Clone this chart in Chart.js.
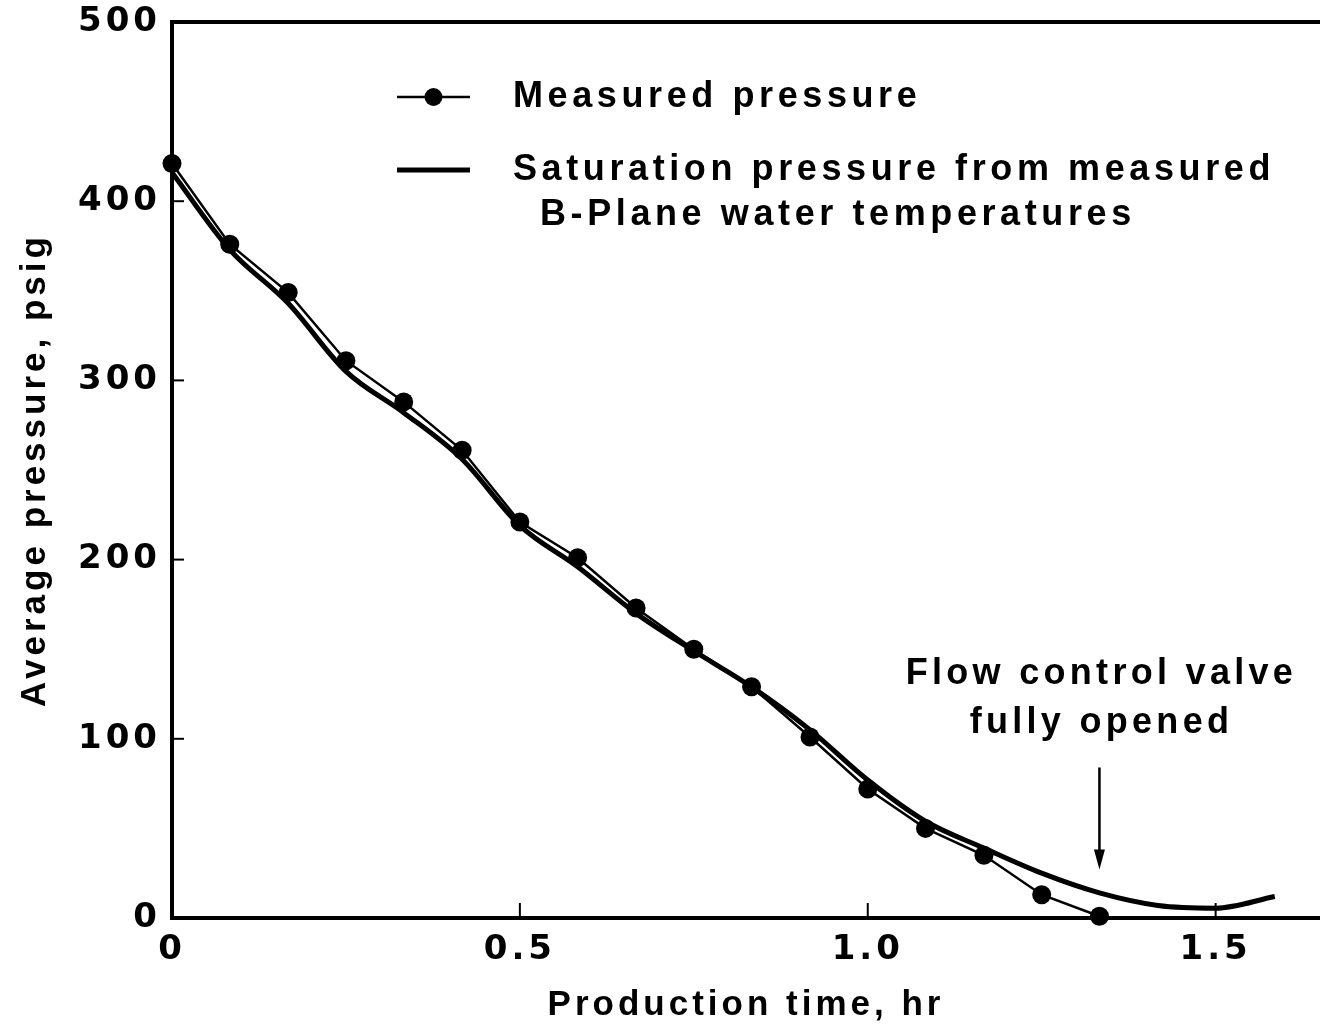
<!DOCTYPE html>
<html><head><meta charset="utf-8">
<script src="https://cdn.jsdelivr.net/npm/chart.js@4.4.1/dist/chart.umd.min.js"></script>
<style>html,body{margin:0;padding:0;background:#fff}#wrap{width:1320px;height:1030px}</style>
</head><body><div id="wrap"><canvas id="c" width="1320" height="1030"></canvas></div>
<script>
// ---- data ----
const measuredTime = [0, 0.083, 0.167, 0.25, 0.333, 0.417, 0.5, 0.583, 0.667, 0.75, 0.833, 0.917, 1.0, 1.083, 1.167, 1.25, 1.333];
const measuredPressure = [421, 376, 349, 311, 288, 261, 221, 201, 173, 150, 129, 101, 72, 50, 35, 13, 1];
const satTime = [0, 0.083, 0.167, 0.25, 0.333, 0.417, 0.5, 0.583, 0.667, 0.75, 0.833, 0.917, 1.0, 1.083, 1.167, 1.25, 1.333, 1.417, 1.5, 1.585];
const satPressure = [416, 373, 343, 305, 282, 256, 219, 196, 170, 149, 129, 105, 77, 54, 39, 25, 14, 7, 5.5, 12];
const xTickValues = [0, 0.5, 1.0, 1.5];
const xTickLabels = ['0', '0.5', '1.0', '1.5'];
const yTickValues = [0, 100, 200, 300, 400, 500];
const yTickLabels = ['0', '100', '200', '300', '400', '500'];
const seriesNames = ['Measured pressure', 'Saturation pressure from measured', 'B-Plane water temperatures'];
const xTitle = 'Production time, hr';
const yTitle = 'Average pressure, psig';
const noteLines = ['Flow control valve', 'fully opened'];
const noteTime = 1.333;
const arrowFrom = 84, arrowTo = 27;
const noteY = [136, 109];

const TICKFONT = 'DejaVu Sans';
const TEXTFONT = 'Liberation Sans';
const SPACING = '4px';

const spacingPlugin = {
  id: 'spacing',
  beforeLayout(chart){ chart.ctx.letterSpacing = SPACING; },
  beforeDraw(chart){ chart.ctx.letterSpacing = SPACING; }
};

const decorPlugin = {
  id: 'decor',
  afterDraw(chart){
    const ctx = chart.ctx, a = chart.chartArea;
    const xs = chart.scales.x, ys = chart.scales.y;
    ctx.save();
    ctx.strokeStyle = '#000'; ctx.fillStyle = '#000';
    // top frame
    ctx.lineWidth = 4;
    ctx.beginPath(); ctx.moveTo(a.left - 2, a.top); ctx.lineTo(a.right, a.top); ctx.stroke();
    // inward ticks
    ctx.lineWidth = 2;
    yTickValues.forEach(v => { if (v > 0 && v < 500) { const y = ys.getPixelForValue(v); ctx.beginPath(); ctx.moveTo(a.left, y); ctx.lineTo(a.left + 12, y); ctx.stroke(); } });
    xTickValues.forEach(v => { if (v > 0) { const x = xs.getPixelForValue(v); ctx.beginPath(); ctx.moveTo(x, a.bottom); ctx.lineTo(x, a.bottom - 15); ctx.stroke(); } });
    // legend
    const lx0 = a.left + 225, lx1 = a.left + 298, tx = a.left + 341;
    const ly1 = a.top + 75, ly2 = a.top + 148, ly3 = a.top + 193;
    ctx.lineWidth = 2.5;
    ctx.beginPath(); ctx.moveTo(lx0, ly1); ctx.lineTo(lx1, ly1); ctx.stroke();
    ctx.beginPath(); ctx.arc((lx0 + lx1) / 2, ly1, 9, 0, Math.PI * 2); ctx.fill();
    ctx.lineWidth = 5;
    ctx.beginPath(); ctx.moveTo(lx0, ly2); ctx.lineTo(lx1, ly2); ctx.stroke();
    ctx.letterSpacing = '4.6px';
    ctx.font = 'bold 36px "' + TEXTFONT + '"';
    ctx.textAlign = 'left'; ctx.textBaseline = 'middle';
    ctx.fillText(seriesNames[0], tx, ly1);
    ctx.fillText(seriesNames[1], tx, ly2);
    ctx.fillText(seriesNames[2], tx + 27, ly3);
    // annotation
    ctx.letterSpacing = '4.3px';
    const ax = xs.getPixelForValue(noteTime);
    ctx.textAlign = 'center';
    ctx.fillText(noteLines[0], ax + 2, ys.getPixelForValue(noteY[0]));
    ctx.fillText(noteLines[1], ax + 2, ys.getPixelForValue(noteY[1]));
    const y0 = ys.getPixelForValue(arrowFrom), y1 = ys.getPixelForValue(arrowTo);
    ctx.lineWidth = 2.5;
    ctx.beginPath(); ctx.moveTo(ax, y0); ctx.lineTo(ax, y1 - 16); ctx.stroke();
    ctx.beginPath(); ctx.moveTo(ax - 5.5, y1 - 20); ctx.lineTo(ax + 5.5, y1 - 20); ctx.lineTo(ax, y1); ctx.closePath(); ctx.fill();
    ctx.restore();
  }
};

new Chart(document.getElementById('c'), {
  type: 'line',
  data: {
    datasets: [
      {
        label: seriesNames[0],
        data: measuredTime.map((t, i) => ({x: t, y: measuredPressure[i]})),
        borderColor: '#000', backgroundColor: '#000', borderWidth: 2.5,
        pointRadius: 9.5, pointBackgroundColor: '#000', pointBorderWidth: 0,
        tension: 0, clip: false
      },
      {
        label: seriesNames[1] + ' ' + seriesNames[2],
        data: satTime.map((t, i) => ({x: t, y: satPressure[i]})),
        borderColor: '#000', borderWidth: 5, pointRadius: 0,
        cubicInterpolationMode: 'monotone', clip: false
      }
    ]
  },
  options: {
    responsive: false, animation: false, devicePixelRatio: 1,
    layout: { autoPadding: false, padding: { top: 22, right: 0, left: 0, bottom: 0 } },
    plugins: { legend: { display: false }, tooltip: { enabled: false } },
    scales: {
      x: {
        type: 'linear', min: 0, max: 1.65,
        afterBuildTicks: s => { s.ticks = xTickValues.map(v => ({value: v})); },
        afterFit: s => { s.height = 112; s.paddingLeft = 0; s.paddingRight = 0; },
        grid: { display: false, drawTicks: false },
        border: { display: true, width: 4, color: '#000' },
        ticks: { color: '#000', padding: 12, maxRotation: 0, autoSkip: false,
          font: { family: TICKFONT, size: 34, weight: 'bold' },
          callback: v => { const i = xTickValues.indexOf(v); return i >= 0 ? xTickLabels[i] : ''; } },
        title: { display: true, text: xTitle, color: '#000', padding: { top: 0, bottom: 4 },
          font: { family: TEXTFONT, size: 35, weight: 'bold' } }
      },
      y: {
        min: 0, max: 500,
        afterBuildTicks: s => { s.ticks = yTickValues.map(v => ({value: v})); },
        afterFit: s => { s.width = 172; s.paddingTop = 0; s.paddingBottom = 0; },
        grid: { display: false, drawTicks: false },
        border: { display: true, width: 4, color: '#000' },
        ticks: { color: '#000', padding: 11, autoSkip: false,
          font: { family: TICKFONT, size: 34, weight: 'bold' },
          callback: v => { const i = yTickValues.indexOf(v); return i >= 0 ? yTickLabels[i] : ''; } },
        title: { display: true, text: yTitle, color: '#000', padding: { top: 14, bottom: 0 },
          font: { family: TEXTFONT, size: 35, weight: 'bold' } }
      }
    }
  },
  plugins: [spacingPlugin, decorPlugin]
});
</script>
</body></html>
